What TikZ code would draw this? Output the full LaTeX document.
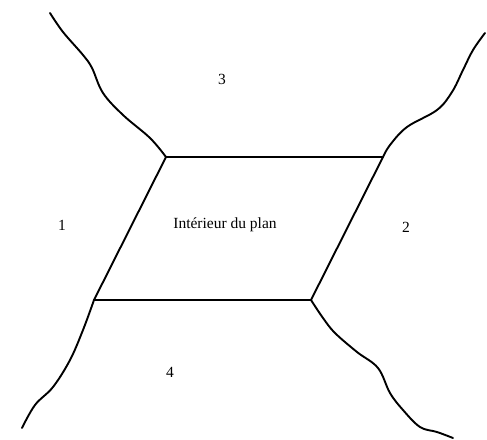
\documentclass[tikz,border=0pt]{standalone}
\usepackage{fontspec}
\setmainfont{Liberation Serif}
\begin{document}
\begin{tikzpicture}[x=1pt, y=-1pt, line join=round, line cap=round]
	\tikzset{bord/.style={line width=1.9pt, black},
		frontiere/.style={line width=1.9pt, black, smooth, tension=0.6},
		etiquette/.style={font=\fontsize{15.5}{18}\selectfont}}
	\useasboundingbox (0,0) rectangle (487,439);

	% Les sommets du parallélogramme
	\coordinate (hg) at (166,157);
	\coordinate (hd) at (383,157);
	\coordinate (bd) at (311,300);
	\coordinate (bg) at (94,300);

	% Le bord du plan
	\draw[bord] (hg) -- (hd) -- (bd) -- (bg) -- cycle;

	% Les frontières des régions extérieures
	\draw[frontiere] plot coordinates {(166,157) (150,138) (123,115) (103,93) (92,68) (83,55) (63,32) (50,13)};
	\draw[frontiere] plot coordinates {(383,157) (390,145) (407,127) (437,110) (452,92) (463,70) (473,50) (485,33)};
	\draw[frontiere] plot coordinates {(311,300) (323,318) (335,333) (357,352) (378,368) (390,393) (403,410) (420,427) (437,432) (453,438)};
	\draw[frontiere] plot coordinates {(94,300) (83,330) (70,360) (53,387) (35,405) (22,428)};

	% Les étiquettes des régions
	\node[etiquette] (int) at (225,225) {Intérieur du plan};
	\node[etiquette] (r1) at (62,225) {1};
	\node[etiquette] (r2) at (406,227) {2};
	\node[etiquette] (r3) at (222,79) {3};
	\node[etiquette] (r4) at (170,372) {4};
\end{tikzpicture}
\end{document}
